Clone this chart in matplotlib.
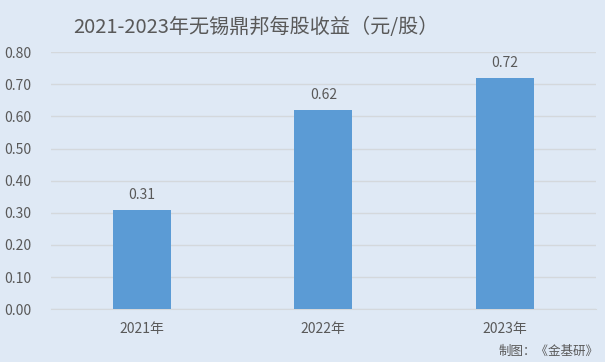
import matplotlib.pyplot as plt

plt.rcParams['font.family'] = ['Noto Sans CJK SC', 'DejaVu Sans']

years = ['2021年', '2022年', '2023年']
eps = [0.31, 0.62, 0.72]
yticks = [0.0, 0.1, 0.2, 0.3, 0.4, 0.5, 0.6, 0.7, 0.8]

bg = '#dfe9f5'
grey = '#595959'

fig = plt.figure(figsize=(6.05, 3.62), dpi=100, facecolor=bg)
ax = fig.add_axes([0.084, 0.146, 0.901, 0.71], facecolor=bg)

x = range(len(years))
bars = ax.bar(x, eps, width=0.32, color='#5b9bd5', zorder=3)
for xi, v in zip(x, eps):
    ax.text(xi, v + 0.025, f'{v:.2f}', ha='center', va='bottom', fontsize=10, color=grey)

ax.set_xlim(-0.5, 2.5)
ax.set_ylim(0, 0.8)
ax.set_yticks(yticks)
ax.set_yticklabels([f'{t:.2f}' for t in yticks])
ax.set_xticks(list(x))
ax.set_xticklabels(years)
ax.tick_params(axis='both', length=0, labelsize=10, labelcolor=grey)
ax.tick_params(axis='y', pad=14)
ax.tick_params(axis='x', pad=9)
ax.grid(axis='y', color='#d4d8dc', linewidth=1, zorder=0)
for s in ['top', 'right', 'left']:
    ax.spines[s].set_visible(False)
ax.spines['bottom'].set_color('#d4d8dc')

fig.text(0.423, 0.925, '2021-2023年无锡鼎邦每股收益（元/股）', ha='center', va='center',
         fontsize=14.5, color=grey)
fig.text(0.99, 0.03, '制图：《金基研》', ha='right', va='center', fontsize=9, color=grey)

fig.savefig('out.png', dpi=100, facecolor=bg)
